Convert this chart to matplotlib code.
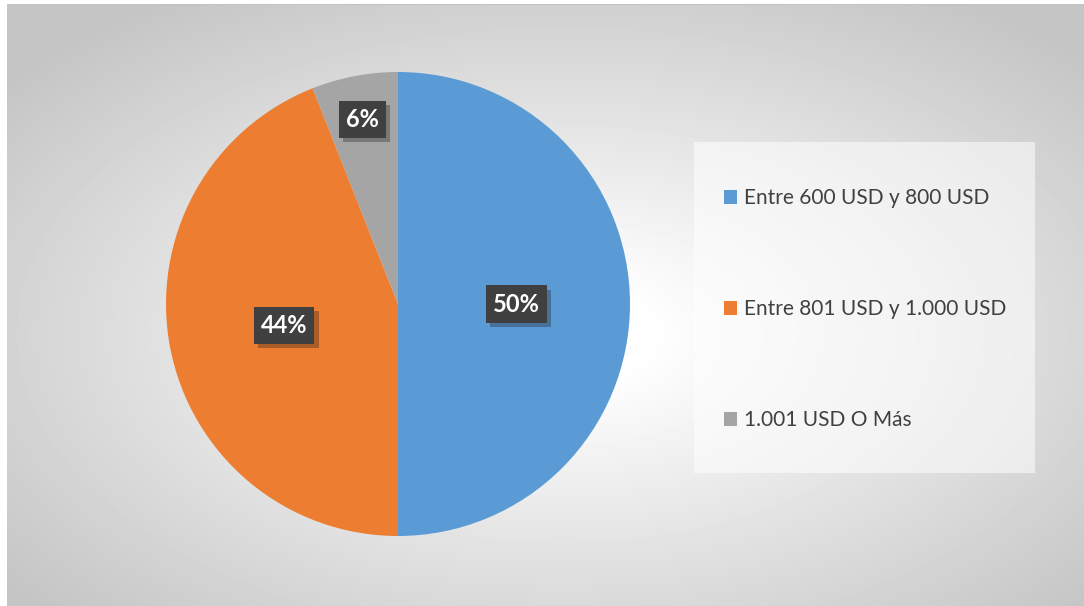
import numpy as np
import matplotlib
matplotlib.use("Agg")
import matplotlib.pyplot as plt
import matplotlib.patheffects as pe
from matplotlib.patches import Rectangle

plt.rcParams["font.family"] = ["Lato", "DejaVu Sans"]

labels = ["Entre 600 USD y 800 USD", "Entre 801 USD y 1.000 USD", "1.001 USD O Más"]
values = [50, 44, 6]
pct_labels = ["50%", "44%", "6%"]
colors = ["#5B9BD5", "#ED7D31", "#A5A5A5"]

W, H = 1084, 606
fig = plt.figure(figsize=(W / 100, H / 100), dpi=100)

# radial gradient background
bg = fig.add_axes([0, 0, 1, 1])
yy, xx = np.mgrid[0:H, 0:W]
r = np.sqrt(((xx - 0.52 * W) / (0.62 * W)) ** 2 + ((yy - 0.55 * H) / (0.62 * H)) ** 2)
t = np.clip((r - 0.12) / 0.95, 0, 1)
img = 1.0 - 0.23 * t
img[(xx < 7) | (yy < 4)] = 1.0
img[(yy >= 4) & (yy < 5) & (xx >= 7)] = 0.76
bg.imshow(img, cmap="gray", vmin=0, vmax=1, aspect="auto", extent=[0, W, H, 0],
          interpolation="bilinear")
bg.set_xlim(0, W)
bg.set_ylim(H, 0)
bg.axis("off")

# legend box
fig.patches.append(Rectangle((694 / W, 1 - 473 / H), 341 / W, 331 / H,
                             transform=fig.transFigure, facecolor="white",
                             alpha=0.55, edgecolor="none", zorder=1))

cx, cy, rad = 398, 304, 232
ax = fig.add_axes([(cx - rad) / W, 1 - (cy + rad) / H, 2 * rad / W, 2 * rad / H])
wedges, _ = ax.pie(values, colors=colors, startangle=90, counterclock=False,
                   wedgeprops=dict(linewidth=0))
ax.set_xlim(-1, 1)
ax.set_ylim(-1, 1)
ax.set_aspect("equal")

dists = [0.51, 0.5, 0.81]
for w, txt, d in zip(wedges, pct_labels, dists):
    ang = np.deg2rad((w.theta1 + w.theta2) / 2)
    t_ = ax.text(d * np.cos(ang), d * np.sin(ang), txt, ha="center", va="center",
                 color="white", fontsize=17, fontweight="bold",
                 bbox=dict(boxstyle="square,pad=0.3", fc="#404040", ec="none"))
    t_.get_bbox_patch().set_path_effects(
        [pe.SimplePatchShadow(offset=(3, -3), alpha=0.3), pe.Normal()])

leg = fig.legend(wedges, labels, loc="center left",
                 bbox_to_anchor=(705 / W, 1 - 309 / H), frameon=False,
                 fontsize=15, labelcolor="#404040", handlelength=0.65,
                 handleheight=0.65, handletextpad=0.3, labelspacing=4.37)

fig.savefig("out.png", dpi=100)
